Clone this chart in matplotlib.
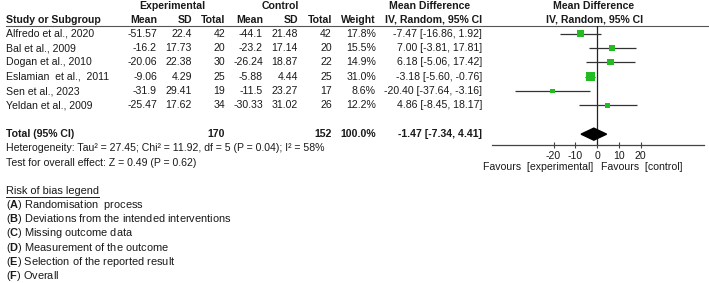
import matplotlib.pyplot as plt
import numpy as np

plt.rcParams['font.family'] = ['Liberation Sans', 'DejaVu Sans']
plt.rcParams['mathtext.fontset'] = 'custom'
plt.rcParams['mathtext.rm'] = 'Liberation Sans'
plt.rcParams['mathtext.bf'] = 'Liberation Sans:bold'

studies = ['Alfredo et al., 2020', 'Bal et al., 2009', 'Dogan et al., 2010',
           'Eslamian  et al.,  2011', 'Sen et al., 2023', 'Yeldan et al., 2009']
exp_mean = ['-51.57', '-16.2', '-20.06', '-9.06', '-31.9', '-25.47']
exp_sd = ['22.4', '17.73', '22.38', '4.29', '29.41', '17.62']
exp_n = [42, 20, 30, 25, 19, 34]
ctrl_mean = ['-44.1', '-23.2', '-26.24', '-5.88', '-11.5', '-30.33']
ctrl_sd = ['21.48', '17.14', '18.87', '4.44', '23.27', '31.02']
ctrl_n = [42, 20, 22, 25, 17, 26]
weight = [17.8, 15.5, 14.9, 31.0, 8.6, 12.2]
md = [-7.47, 7.00, 6.18, -3.18, -20.40, 4.86]
lo = [-16.86, -3.81, -5.06, -5.60, -37.64, -8.45]
hi = [1.92, 17.81, 17.42, -0.76, -3.16, 18.17]
total_md, total_lo, total_hi = -1.47, -7.34, 4.41
ticks = [-20, -10, 0, 10, 20]

legend_items = [('A', 'Randomisation  process'),
                ('B', 'Deviations from the intended interventions'),
                ('C', 'Missing outcome data'),
                ('D', 'Measurement of the outcome'),
                ('E', 'Selection of the reported result'),
                ('F', 'Overall')]

W, H = 709, 283
fig = plt.figure(figsize=(W / 100, H / 100), dpi=100)
ax = fig.add_axes([0, 0, 1, 1])
ax.set_xlim(0, W)
ax.set_ylim(H, 0)
ax.axis('off')

fs = 7.6
col = '#1a1a1a'

def row_y(i):
    return 33.7 + 14.35 * i

# headers
ax.text(172, 6, 'Experimental', ha='center', va='center', fontsize=fs, weight='bold', color=col)
ax.text(280, 6, 'Control', ha='center', va='center', fontsize=fs, weight='bold', color=col)
ax.text(430, 6, 'Mean Difference', ha='center', va='center', fontsize=fs, weight='bold', color=col)
ax.text(594, 6, 'Mean Difference', ha='center', va='center', fontsize=fs, weight='bold', color=col)
ax.text(6, 20, 'Study or Subgroup', ha='left', va='center', fontsize=fs, weight='bold', color=col)
for x, s in [(157, 'Mean'), (192, 'SD'), (225, 'Total'), (263, 'Mean'),
             (298, 'SD'), (332, 'Total'), (376, 'Weight'), (482, 'IV, Random, 95% CI')]:
    ax.text(x, 20, s, ha='right', va='center', fontsize=fs, weight='bold', color=col)
ax.text(595, 20, 'IV, Random, 95% CI', ha='center', va='center', fontsize=fs, weight='bold', color=col)
ax.plot([6, W], [25.5, 25.5], color='#555555', lw=0.8)

for i, name in enumerate(studies):
    y = row_y(i)
    ax.text(6, y, name, ha='left', va='center', fontsize=fs, color=col)
    vals = [exp_mean[i], exp_sd[i], str(exp_n[i]), ctrl_mean[i], ctrl_sd[i], str(ctrl_n[i]),
            f'{weight[i]:.1f}%', f'{md[i]:.2f} [{lo[i]:.2f}, {hi[i]:.2f}]']
    for x, s in zip([157, 192, 225, 263, 298, 332, 376, 482], vals):
        ax.text(x, y, s, ha='right', va='center', fontsize=fs, color=col)

yt = row_y(7)
ax.text(6, yt, 'Total (95% CI)', ha='left', va='center', fontsize=fs, weight='bold', color=col)
for x, s in [(225, str(sum(exp_n))), (332, str(sum(ctrl_n))), (376, '100.0%'),
             (482, f'{total_md:.2f} [{total_lo:.2f}, {total_hi:.2f}]')]:
    ax.text(x, yt, s, ha='right', va='center', fontsize=fs, weight='bold', color=col)

ax.text(6, 148, 'Heterogeneity: Tau² = 27.45; Chi² = 11.92, df = 5 (P = 0.04); I² = 58%',
        ha='left', va='center', fontsize=fs, color=col)
ax.text(6, 163, 'Test for overall effect: Z = 0.49 (P = 0.62)',
        ha='left', va='center', fontsize=fs, color=col)

fl = 7.9
t = ax.text(6, 191, 'Risk of bias legend', ha='left', va='center', fontsize=fl, color=col)
fig.canvas.draw()
bb = t.get_window_extent().transformed(ax.transData.inverted())
ax.plot([bb.x0, bb.x1], [196.5, 196.5], color=col, lw=0.7)
for k, (letter, desc) in enumerate(legend_items):
    ax.text(6, 205 + 14.2 * k, rf'($\bf{{{letter}}}$) {desc}', ha='left', va='center',
            fontsize=fl, color=col)

# forest plot panel
x0, x1 = 492, 704
y0, y1 = 25.5, 145
fax = fig.add_axes([x0 / W, 1 - y1 / H, (x1 - x0) / W, (y1 - y0) / H])
fax.patch.set_alpha(0)
fax.set_xlim(-48.3, 49.2)
fax.set_ylim((y1 - 33.7) / 14.35, (y0 - 33.7) / 14.35)
for s in ['top', 'left', 'right']:
    fax.spines[s].set_visible(False)
fax.spines['bottom'].set_color('#444444')
fax.spines['bottom'].set_linewidth(0.9)
fax.set_yticks([])
fax.set_xticks(ticks)
fax.set_xticklabels([str(v) for v in ticks], fontsize=fs, color=col)
fax.tick_params(axis='x', direction='inout', length=5, width=0.8, color='#444444', pad=1.5)
fax.axvline(0, color='#222222', lw=0.9)

rows = np.arange(len(studies))
fax.hlines(rows, lo, hi, color='#333333', lw=0.9)
sizes = np.array(weight) * 1.3
fax.scatter(md, rows, marker='s', s=sizes, color='#22bb22', zorder=3, linewidths=0)
fax.fill([total_lo, total_md, total_hi, total_md], [7, 7 - 0.42, 7, 7 + 0.42],
         color='black', zorder=3)

ax.text(538, 167, 'Favours  [experimental]', ha='center', va='center', fontsize=fs, color=col)
ax.text(642, 167, 'Favours  [control]', ha='center', va='center', fontsize=fs, color=col)

fig.savefig('out.png', dpi=100)
